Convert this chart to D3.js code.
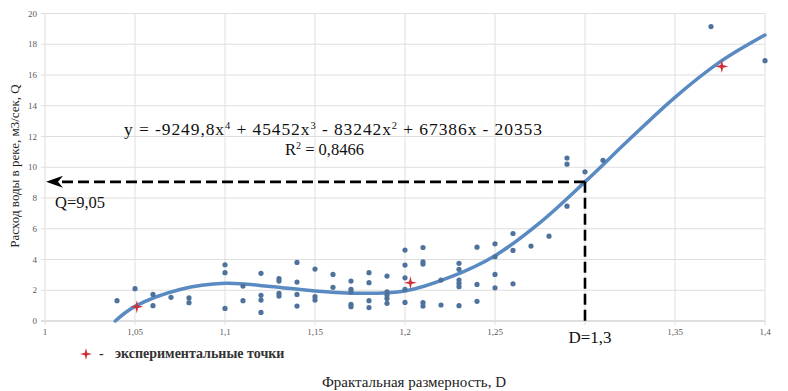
<!DOCTYPE html>
<html>
<head>
<meta charset="utf-8">
<script src="https://cdn.jsdelivr.net/npm/d3@7"></script>
<style>
  body { margin: 0; background: #fff; }
  svg { display: block; }
</style>
</head>
<body>
<div id="chart"></div>
<script>
// tick values
var xTicks = [1, 1.05, 1.1, 1.15, 1.2, 1.25, 1.3, 1.35, 1.4];
var xTickLabels = ["1", "1,05", "1,1", "1,15", "1,2", "1,25", "", "1,35", "1,4"];
var yTicks = [0, 2, 4, 6, 8, 10, 12, 14, 16, 18, 20];

// observed points (fractal dimension D, discharge Q)
var pointsD = [1.04, 1.05, 1.06, 1.06, 1.07, 1.08, 1.08,
  1.10, 1.10, 1.10, 1.11, 1.11, 1.12, 1.12, 1.12, 1.12, 1.13, 1.13, 1.13, 1.13,
  1.14, 1.14, 1.14, 1.14, 1.15, 1.15, 1.15,
  1.16, 1.16, 1.17, 1.17, 1.17, 1.17, 1.17, 1.18, 1.18, 1.18, 1.18,
  1.19, 1.19, 1.19, 1.19, 1.19, 1.20, 1.20, 1.20, 1.20, 1.20,
  1.21, 1.21, 1.21, 1.21, 1.21, 1.22, 1.22,
  1.23, 1.23, 1.23, 1.23, 1.23, 1.23, 1.24, 1.24, 1.24,
  1.25, 1.25, 1.25, 1.25, 1.26, 1.26, 1.26, 1.27, 1.28,
  1.29, 1.29, 1.29, 1.30, 1.31, 1.37, 1.40];
var pointsQ = [1.32, 2.1, 1.73, 1.0, 1.54, 1.5, 1.19,
  3.66, 3.14, 0.82, 2.27, 1.32, 3.1, 1.67, 1.36, 0.56, 2.75, 2.6, 1.8, 1.62,
  3.81, 2.53, 1.73, 0.97, 3.38, 1.58, 1.36,
  3.03, 2.19, 2.6, 2.06, 1.9, 1.08, 0.93, 3.14, 2.49, 1.32, 0.87,
  2.92, 1.9, 1.69, 1.47, 1.15, 4.61, 3.64, 2.81, 2.06, 1.21,
  4.78, 3.85, 3.7, 1.19, 0.97, 2.66, 1.04,
  3.75, 3.36, 2.66, 2.45, 2.23, 1.0, 4.8, 2.38, 1.28,
  5.02, 4.18, 3.03, 2.16, 5.69, 4.59, 2.42, 4.87, 5.52,
  10.6, 10.2, 7.47, 9.7, 10.45, 19.15, 16.93];

// experimental points
var expD = [1.051, 1.203, 1.376];
var expQ = [0.93, 2.49, 16.56];

// polynomial trend line
var trendD = [1.039, 1.05, 1.075, 1.1, 1.125, 1.15, 1.175, 1.2, 1.225, 1.25, 1.275, 1.3, 1.325, 1.35, 1.375, 1.4];
var trendQ = [0, 0.95, 2.05, 2.45, 2.25, 1.95, 1.8, 1.95, 2.85, 4.25, 6.4, 9.05, 11.85, 14.55, 16.85, 18.6];

var markD = 1.3, markQ = 9.05;

var width = 788, height = 391;
var serif = "'Liberation Serif', 'Times New Roman', 'DejaVu Serif', serif";

var x = d3.scaleLinear().domain([1, 1.4]).range([45, 765]);
var y = d3.scaleLinear().domain([0, 20]).range([321, 13.5]);

var svg = d3.select("#chart").append("svg")
    .attr("width", width)
    .attr("height", height)
    .attr("font-family", serif);

// grid
svg.append("g").selectAll("line")
    .data(yTicks)
  .enter().append("line")
    .attr("x1", x(1) - 4).attr("x2", x(1.4))
    .attr("y1", function(d) { return y(d); })
    .attr("y2", function(d) { return y(d); })
    .attr("stroke", function(d) { return d == 0 ? "#bfbfbf" : "#dedede"; })
    .attr("stroke-width", 1);

svg.append("g").selectAll("line")
    .data(xTicks)
  .enter().append("line")
    .attr("x1", function(d) { return x(d); })
    .attr("x2", function(d) { return x(d); })
    .attr("y1", y(20)).attr("y2", y(0) + 4)
    .attr("stroke", "#dedede")
    .attr("stroke-width", 1);

// tick labels
svg.append("g").selectAll("text")
    .data(yTicks)
  .enter().append("text")
    .attr("x", 37)
    .attr("y", function(d) { return y(d) + 3; })
    .attr("text-anchor", "end")
    .attr("font-size", 9)
    .attr("fill", "#595959")
    .text(function(d) { return d; });

svg.append("g").selectAll("text")
    .data(xTicks)
  .enter().append("text")
    .attr("x", function(d) { return x(d); })
    .attr("y", 335)
    .attr("text-anchor", "middle")
    .attr("font-size", 9)
    .attr("fill", "#595959")
    .text(function(d, i) { return xTickLabels[i]; });

// trend line
var line = d3.line()
    .x(function(d) { return x(d[0]); })
    .y(function(d) { return y(d[1]); })
    .curve(d3.curveCatmullRom);

svg.append("path")
    .datum(d3.zip(trendD, trendQ))
    .attr("d", line)
    .attr("fill", "none")
    .attr("stroke", "#5a8ac2")
    .attr("stroke-width", 3.5)
    .attr("stroke-linecap", "round");

// observed points
svg.append("g").selectAll("circle")
    .data(d3.zip(pointsD, pointsQ))
  .enter().append("circle")
    .attr("cx", function(d) { return x(d[0]); })
    .attr("cy", function(d) { return y(d[1]); })
    .attr("r", 2.6)
    .attr("fill", "#4f729c");

// 4-point star
function star(r) {
  var pts = [];
  for (var i = 0; i < 8; ++i) {
    pts.push([i * Math.PI / 4, i % 2 ? r * 0.28 : r]);
  }
  return d3.lineRadial().curve(d3.curveLinearClosed)(pts);
}

svg.append("g").selectAll("path")
    .data(d3.zip(expD, expQ))
  .enter().append("path")
    .attr("d", star(6.5))
    .attr("transform", function(d) { return "translate(" + x(d[0]) + "," + y(d[1]) + ")"; })
    .attr("fill", "#d0303a");

// dashed guides
svg.append("line")
    .attr("x1", x(markD)).attr("x2", 56)
    .attr("y1", y(markQ)).attr("y2", y(markQ))
    .attr("stroke", "#000").attr("stroke-width", 2.6)
    .attr("stroke-dasharray", "11,5");

svg.append("line")
    .attr("x1", x(markD)).attr("x2", x(markD))
    .attr("y1", y(markQ)).attr("y2", y(0))
    .attr("stroke", "#000").attr("stroke-width", 2.6)
    .attr("stroke-dasharray", "11,5");

var ay = y(markQ);
svg.append("path")
    .attr("d", "M46," + ay + " L63," + (ay - 6) + " L58," + ay + " L63," + (ay + 6) + " Z")
    .attr("fill", "#000");

// annotations
svg.append("text")
    .attr("x", 124).attr("y", 135)
    .attr("font-size", 17.5)
    .attr("fill", "#111")
    .attr("textLength", 418)
    .attr("lengthAdjust", "spacing")
    .html("y = -9249,8x<tspan dy='-6' font-size='10.5'>4</tspan><tspan dy='6'> + 45452x</tspan><tspan dy='-6' font-size='10.5'>3</tspan><tspan dy='6'> - 83242x</tspan><tspan dy='-6' font-size='10.5'>2</tspan><tspan dy='6'> + 67386x - 20353</tspan>");

svg.append("text")
    .attr("x", 285).attr("y", 155)
    .attr("font-size", 16.5)
    .attr("fill", "#111")
    .html("R<tspan dy='-6' font-size='10'>2</tspan><tspan dy='6'> = 0,8466</tspan>");

svg.append("text")
    .attr("x", 55).attr("y", 208)
    .attr("font-size", 16.5)
    .attr("fill", "#111")
    .text("Q=9,05");

svg.append("text")
    .attr("x", x(markD) + 5).attr("y", 343)
    .attr("text-anchor", "middle")
    .attr("font-size", 17)
    .attr("fill", "#111")
    .text("D=1,3");

// axis titles
svg.append("text")
    .attr("transform", "translate(19,166) rotate(-90)")
    .attr("text-anchor", "middle")
    .attr("font-size", 13)
    .attr("fill", "#222")
    .text("Расход воды в реке, м3/сек, Q");

svg.append("text")
    .attr("x", 414).attr("y", 387)
    .attr("text-anchor", "middle")
    .attr("font-size", 15)
    .attr("fill", "#222")
    .text("Фрактальная размерность, D");

// legend
svg.append("path")
    .attr("d", star(6))
    .attr("transform", "translate(86,354)")
    .attr("fill", "#d0303a");

svg.append("text")
    .attr("x", 99).attr("y", 358)
    .attr("font-size", 14)
    .attr("font-weight", "bold")
    .attr("fill", "#333")
    .text("-");

svg.append("text")
    .attr("x", 115).attr("y", 358)
    .attr("font-size", 14)
    .attr("font-weight", "bold")
    .attr("fill", "#333")
    .text("экспериментальные точки");
</script>
</body>
</html>
